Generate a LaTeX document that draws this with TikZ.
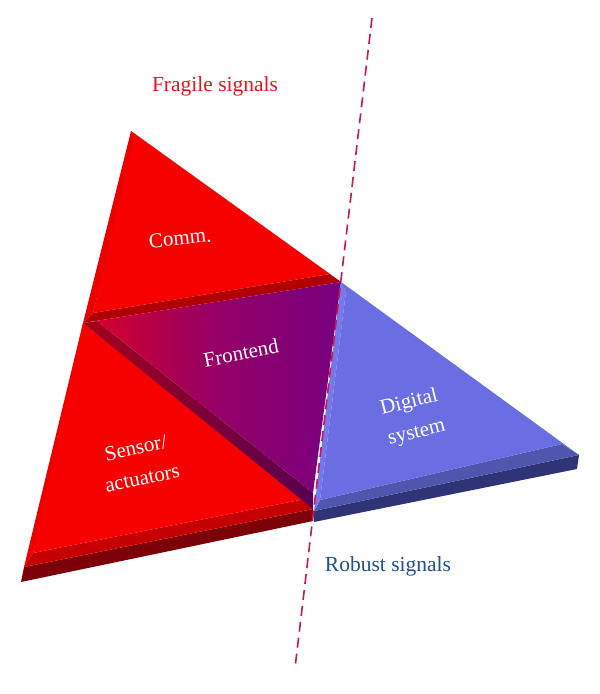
\documentclass[tikz,border=0pt]{standalone}
\usepackage{fontspec}
\setmainfont{Liberation Serif}
\definecolor{topred}{RGB}{246,0,0}
\definecolor{edgered}{RGB}{234,0,0}
\definecolor{stripred}{RGB}{176,0,4}
\definecolor{chamred}{RGB}{196,0,0}
\definecolor{sidered}{RGB}{124,0,8}
\definecolor{feleft}{RGB}{218,0,38}
\definecolor{femid}{RGB}{150,0,100}
\definecolor{feright}{RGB}{118,0,128}
\definecolor{fsleft}{RGB}{165,0,25}
\definecolor{fsright}{RGB}{88,0,80}
\definecolor{topblue}{RGB}{106,110,226}
\definecolor{edgeblue}{RGB}{116,120,232}
\definecolor{chamblue}{RGB}{80,86,174}
\definecolor{sideblue}{RGB}{46,52,118}
\definecolor{dashcol}{RGB}{200,20,90}
\definecolor{fragred}{RGB}{230,20,30}
\definecolor{robblue}{RGB}{31,79,143}
\begin{document}
\begin{tikzpicture}[x=1pt,y=-1pt,
  lbl/.style={font=\fontsize{21}{31}\selectfont, text=white, align=center, inner sep=0pt},
  captext/.style={font=\fontsize{21.5}{26}\selectfont, inner sep=0pt}]
\useasboundingbox (0,0) rectangle (600,694);
% ---------- Comm. triangle ----------
\fill[edgered] (131,131) -- (83,323) -- (93,313) -- (136,140) -- cycle;
\fill[topred] (131,131) -- (330,274) -- (93,313) -- (134,140) -- cycle;
\fill[stripred] (83,323) -- (341,282) -- (330,274) -- (93,313) -- cycle;
% ---------- Sensor triangle ----------
\fill[sidered] (21,582) -- (313,521) -- (313,509) -- (24,567) -- cycle;
\fill[chamred] (24,567) -- (313,509) -- (305,499) -- (33,553) -- cycle;
\fill[edgered] (83,323) -- (24,567) -- (33,553) -- (88,330) -- cycle;
\fill[topred] (83,323) -- (305,499) -- (33,553) -- cycle;
% ---------- Frontend triangle ----------
\shade[left color=fsleft, right color=fsright] (83,323) -- (97,321) -- (313,493) -- (313,509) -- cycle;
\shade[left color=feleft, right color=feright, middle color=femid] (83,323) -- (341,282) -- (313,493) -- (97,321) -- cycle;
% ---------- Digital system triangle ----------
\fill[sideblue] (314,511) -- (579,455) -- (577,469) -- (314,522) -- cycle;
\fill[chamblue] (320,500) -- (562,444) -- (579,455) -- (314,511) -- cycle;
\fill[edgeblue] (341,282) -- (346,291) -- (320,500) -- (314,511) -- cycle;
\fill[topblue] (341,282) -- (579,455) -- (562,444) -- (320,500) -- (346,291) -- cycle;
% ---------- dashed separator ----------
\coordinate (dtop) at (372,18);
\coordinate (dbot) at (295,668);
\draw[dashcol, line width=1.6pt, dash pattern=on 10pt off 6pt] (dtop) -- (dbot);
% ---------- labels ----------
\node[lbl, rotate=6] (comm) at (180,238) {Comm.};
\node[lbl, rotate=11] (front) at (241,353) {Frontend};
\node[lbl, rotate=12] (sensor) at (139,463) {Sensor/\\actuators};
\node[lbl, rotate=14] (digital) at (413,418) {Digital\\system};
\node[captext, text=fragred] (fragile) at (215,86) {Fragile signals};
\node[captext, text=robblue] (robust) at (388,566) {Robust signals};
\end{tikzpicture}
\end{document}
